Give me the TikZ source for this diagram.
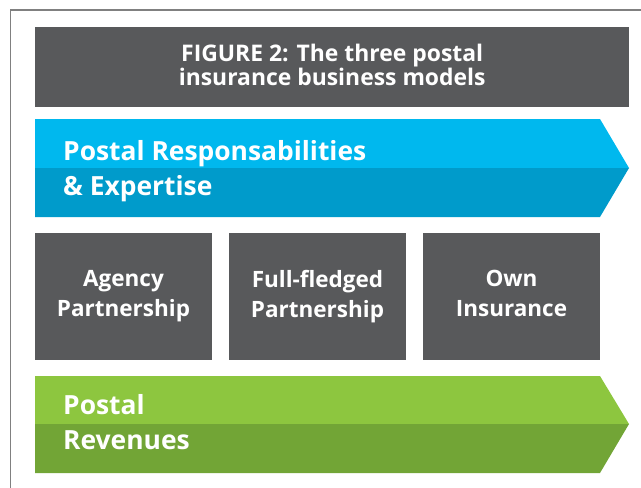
\documentclass[tikz,border=0pt]{standalone}
\usepackage{fontspec}
\setmainfont{Open Sans}
\definecolor{boxgrey}{HTML}{58595B}
\definecolor{framegrey}{HTML}{808080}
\definecolor{bluetop}{HTML}{00B8EE}
\definecolor{bluebottom}{HTML}{009BCB}
\definecolor{greentop}{HTML}{8DC63F}
\definecolor{greenbottom}{HTML}{72A536}

\begin{document}
\begin{tikzpicture}[x=1pt,y=-1pt,
    greybox/.style={fill=boxgrey,text=white,align=center,inner sep=0pt,
      font=\bfseries\fontsize{22.5}{30}\selectfont,
      execute at begin node=\rule{0pt}{22pt},execute at end node=\vphantom{g},
      minimum width=177pt,minimum height=127pt},
    bandtext/.style={anchor=base west,text=white,align=left,inner sep=0pt,
      font=\bfseries\fontsize{26.4}{35}\selectfont}]
      \useasboundingbox (0,0) rectangle (641,488);
      \draw[framegrey,line width=1.5pt] (10.5,488) -- (10.5,9.75) -- (641,9.75);

      \node[greybox,anchor=north west,minimum width=594pt,minimum height=80pt,
        font=\bfseries\fontsize{22.9}{24}\selectfont,
        execute at begin node=,execute at end node=] (title) at (35,27)
        {FIGURE 2: The three postal\\insurance business models};

      % responsabilities band
      \fill[bluetop] (35,119) -- ++ (565,0) -- ++ (29,49) -- ++ (-594,0) -- cycle;
      \fill[bluebottom] (35,168) -- ++ (594,0) -- ++ (-29,49) -- ++ (-565,0) -- cycle;
      \node[bandtext] (resp) at (63,195) {Postal Responsabilities\\\& Expertise};

      % the three models
      \node[greybox] (agency) at (123.5,296.5) {Agency\\Partnership};
      \node[greybox] (fullfledged) at (317.5,296.5) {Full-fledged\\Partnership};
      \node[greybox] (own) at (511.5,296.5) {Own\\Insurance};

      % revenues band
      \fill[greentop] (35,376) -- ++ (565,0) -- ++ (29,48) -- ++ (-594,0) -- cycle;
      \fill[greenbottom] (35,424) -- ++ (594,0) -- ++ (-29,49) -- ++ (-565,0) -- cycle;
      \node[bandtext] (rev) at (63,449) {Postal\\Revenues};
    \end{tikzpicture}
\end{document}
